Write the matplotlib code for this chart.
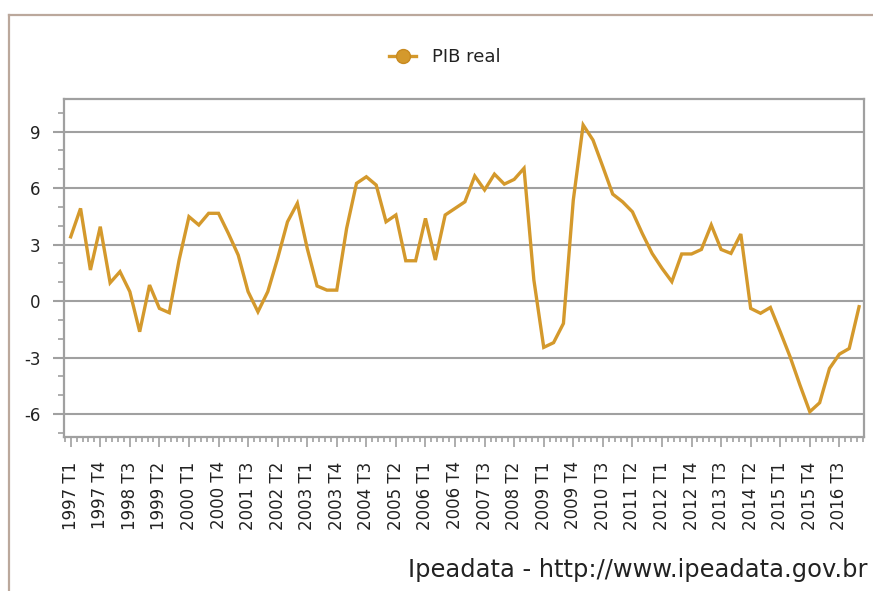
import matplotlib
matplotlib.use("Agg")
import matplotlib.pyplot as plt
from matplotlib.lines import Line2D
from matplotlib.ticker import MultipleLocator, FixedLocator

# ---- data ----
start_year = 1997
n_quarters = 81  # 1997 T1 .. 2017 T1
quarter_labels = [f"{start_year + i // 4} T{i % 4 + 1}" for i in range(n_quarters)]

pib_real = [
    3.41, 4.92, 1.65, 3.95, 0.97, 1.56, 0.50, -1.63, 0.85, -0.39,
    -0.62, 2.18, 4.48, 4.04, 4.66, 4.66, 3.59, 2.44, 0.50, -0.57,
    0.50, 2.27, 4.21, 5.19, 2.80, 0.80, 0.58, 0.58, 3.86, 6.25,
    6.60, 6.16, 4.21, 4.57, 2.14, 2.14, 4.39, 2.18, 4.57, 4.92,
    5.27, 6.64, 5.90, 6.74, 6.21, 6.46, 7.05, 1.12, -2.46, -2.21,
    -1.19, 5.36, 9.35, 8.55, 7.13, 5.68, 5.27, 4.74, 3.59, 2.53,
    1.74, 1.03, 2.50, 2.50, 2.74, 4.04, 2.74, 2.53, 3.56, -0.39,
    -0.65, -0.34, -1.63, -2.96, -4.46, -5.88, -5.40, -3.58, -2.82, -2.52,
    -0.30,
]
series_name = "PIB real"
y_ticks = [-6, -3, 0, 3, 6, 9]
footer = "Ipeadata - http://www.ipeadata.gov.br"

# ---- style ----
W, H, DPI = 873, 591, 100
line_color = "#D4992C"
grid_color = "#A0A0A0"
frame_color = "#BBA89C"
text_color = "#222222"

fig = plt.figure(figsize=(W / DPI, H / DPI), dpi=DPI)
fig.patch.set_facecolor("white")

def px_x(x):
    return x / W

def px_y(y):
    return 1 - y / H

# outer frame (top & left)
fig.add_artist(Line2D([px_x(9), 1.0], [px_y(15), px_y(15)], color=frame_color, lw=1.6,
                      transform=fig.transFigure))
fig.add_artist(Line2D([px_x(9), px_x(9)], [px_y(15), 0.0], color=frame_color, lw=1.6,
                      transform=fig.transFigure))

left, right, top, bottom = 64, 864, 99, 437
ax = fig.add_axes([px_x(left), px_y(bottom), (right - left) / W, (bottom - top) / H])

x = list(range(n_quarters))
ax.plot(x, pib_real, color=line_color, lw=2.4, solid_joinstyle="miter", zorder=3)

ax.set_xlim(-0.68, 80.5)
ax.set_ylim(-7.22, 10.73)

ax.yaxis.set_major_locator(FixedLocator(y_ticks))
ax.yaxis.set_minor_locator(MultipleLocator(1))
ax.set_yticklabels([str(v) for v in y_ticks])
ax.grid(axis="y", which="major", color=grid_color, lw=1.5, zorder=1)

xt = list(range(0, n_quarters, 3))
ax.xaxis.set_major_locator(FixedLocator(xt))
ax.set_xticklabels([quarter_labels[i] for i in xt], rotation=90, va="top", ha="center")
ax.xaxis.set_minor_locator(MultipleLocator(0.6))

for s in ax.spines.values():
    s.set_color(grid_color)
    s.set_linewidth(1.6)

ax.tick_params(axis="y", which="major", length=8, width=1.5, color=grid_color, pad=9,
               labelsize=12, labelcolor=text_color)
ax.tick_params(axis="y", which="minor", length=4, width=1.2, color=grid_color)
ax.tick_params(axis="x", which="major", length=7.5, width=1.2, color=grid_color, pad=10,
               labelsize=12, labelcolor=text_color)
ax.tick_params(axis="x", which="minor", length=3.5, width=1.2, color=grid_color)

# legend
handle = Line2D([], [], color=line_color, lw=2.4, marker="o", markersize=10,
                markerfacecolor=line_color, markeredgecolor="#C88A20")
fig.legend([handle], [series_name], loc="center", bbox_to_anchor=(px_x(445), px_y(57)),
           frameon=False, fontsize=13, handlelength=1.45, handletextpad=0.9,
           labelcolor=text_color)

fig.text(px_x(868), px_y(570), footer, ha="right", va="center", fontsize=17.4,
         color=text_color)

fig.savefig("out.png", dpi=DPI, facecolor="white")
